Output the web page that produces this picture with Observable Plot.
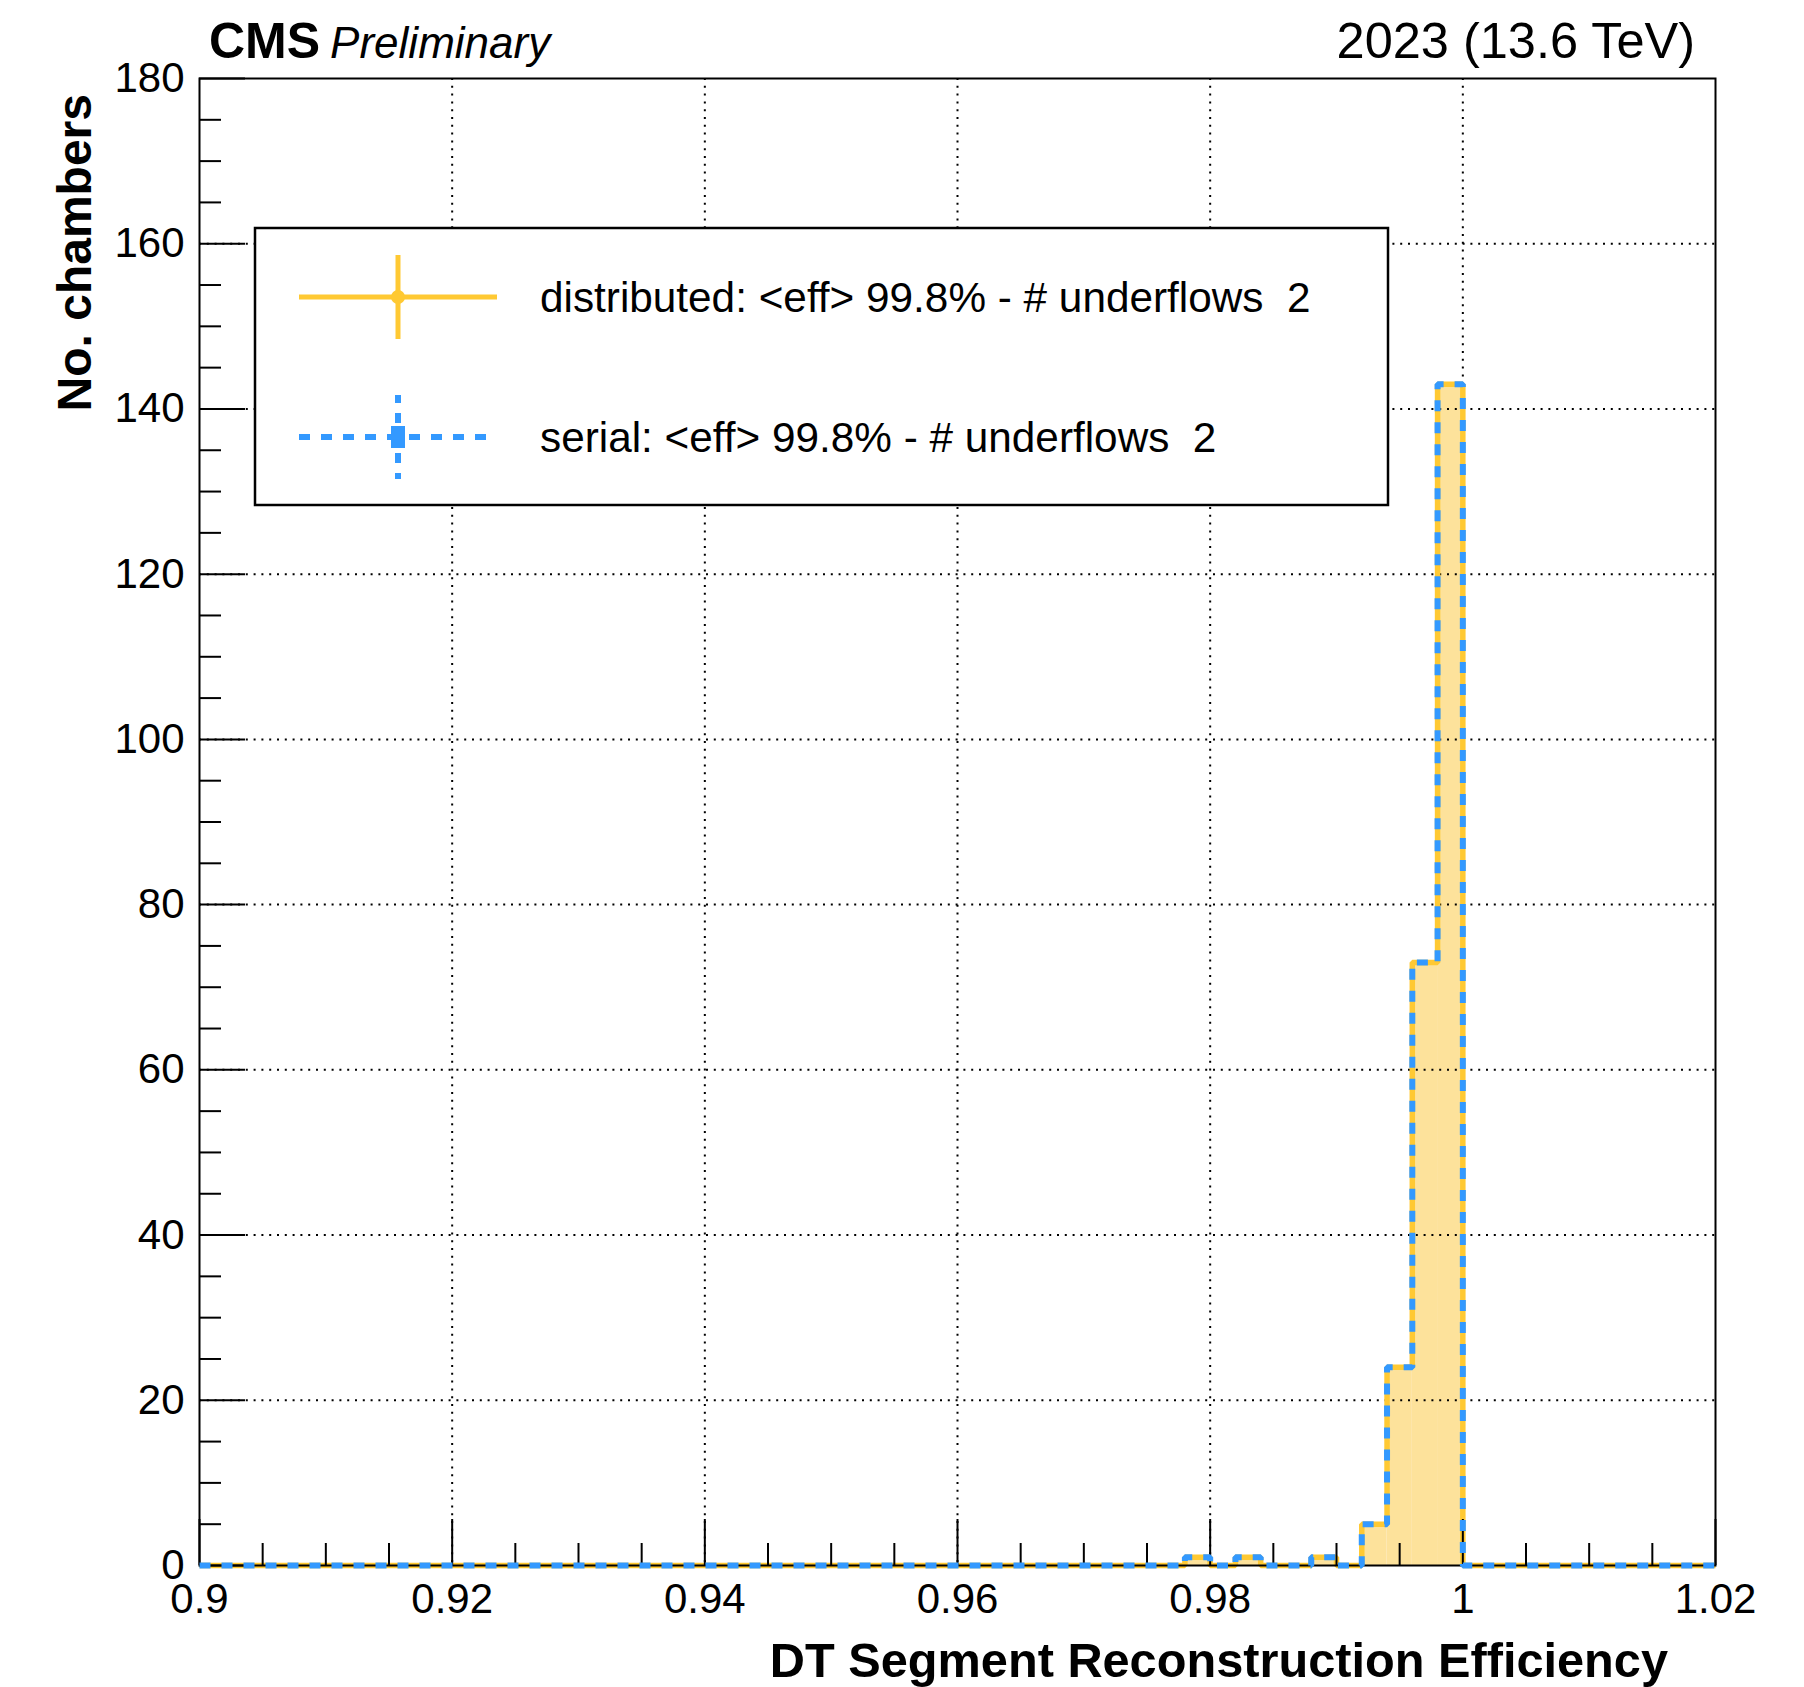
<!DOCTYPE html>
<html><head><meta charset="utf-8">
<script src="https://cdn.jsdelivr.net/npm/d3@7"></script>
<script src="https://cdn.jsdelivr.net/npm/@observablehq/plot@0.6"></script>
<style>
html,body{margin:0;padding:0;background:#fff;}
#chart{position:relative;width:1804px;height:1687px;}
</style></head><body><div id="chart"></div>
<script>
// ---- data ----
const binStart = [0.978, 0.982, 0.988, 0.992, 0.994, 0.996, 0.998];
const distributedCounts = [1, 1, 1, 5, 24, 73, 143];
const serialCounts = [1, 1, 1, 5, 24, 73, 143];
const binWidth = 0.002;
const xDomain = [0.9, 1.02];
const yDomain = [0, 180];
const xTickValues = [0.9, 0.92, 0.94, 0.96, 0.98, 1.0, 1.02];
const xTickLabels = ["0.9", "0.92", "0.94", "0.96", "0.98", "1", "1.02"];
const yTickValues = [0, 20, 40, 60, 80, 100, 120, 140, 160, 180];
const yTickLabels = ["0", "20", "40", "60", "80", "100", "120", "140", "160", "180"];
const xGridValues = [0.92, 0.94, 0.96, 0.98, 1.0];
const yGridValues = [20, 40, 60, 80, 100, 120, 140, 160];
const xMinorStep = 0.005;
const yMinorStep = 5;
const seriesNames = ["distributed", "serial"];
const meanEff = ["99.8%", "99.8%"];
const underflows = [2, 2];

// ---- layout ----
const W = 1804, H = 1687;
const mL = 199, mR = 89, mT = 78, mB = 122;
const fw = W - mL - mR, fh = H - mT - mB;
const FONT = "'Liberation Sans', Arial, Helvetica, sans-serif";
const YEL = "#ffc933", FILL = "#fde29b", BLUE = "#3399ff";

function stepPoints(counts) {
  const pts = [{x: xDomain[0], y: 0}];
  for (let i = 0; i < binStart.length; i++) {
    pts.push({x: binStart[i], y: counts[i]});
    const end = binStart[i] + binWidth;
    const next = i + 1 < binStart.length ? binStart[i + 1] : null;
    if (next === null || Math.abs(next - end) > 1e-9) pts.push({x: end, y: 0});
  }
  pts.push({x: xDomain[1], y: 0});
  return pts;
}
const bins = binStart.map((b, i) => ({x1: b, x2: b + binWidth, y: distributedCounts[i]}));
const distPts = stepPoints(distributedCounts);
const serPts = stepPoints(serialCounts);

const xMinor = d3.range(Math.round(xDomain[0] / xMinorStep), Math.round(xDomain[1] / xMinorStep) + 1)
  .map(k => +(k * xMinorStep).toFixed(4)).filter(v => !xTickValues.some(t => Math.abs(t - v) < 1e-9));
const yMinor = d3.range(yDomain[0], yDomain[1] + 1e-9, yMinorStep).filter(v => v % 20 !== 0);

const labelX = new Map(xTickValues.map((v, i) => [v, xTickLabels[i]]));
const labelY = new Map(yTickValues.map((v, i) => [v, yTickLabels[i]]));

const plot = Plot.plot({
  width: W, height: H,
  marginLeft: mL, marginRight: mR, marginTop: mT, marginBottom: mB,
  style: {fontFamily: FONT, fontSize: "42px", background: "#fff", overflow: "visible"},
  x: {domain: xDomain, label: null},
  y: {domain: yDomain, label: null},
  marks: [
    Plot.rectY(bins, {x1: "x1", x2: "x2", y: "y", fill: FILL}),
    Plot.ruleX(xGridValues, {x: d => d, stroke: "#000", strokeWidth: 2, strokeDasharray: "2,5.8"}),
    Plot.ruleY(yGridValues, {y: d => d, stroke: "#000", strokeWidth: 2, strokeDasharray: "2,5.8"}),
    Plot.lineY(distPts, {x: "x", y: "y", curve: "step-after", stroke: YEL, strokeWidth: 5.5, strokeLinejoin: "miter", strokeLinecap: "butt"}),
    Plot.ruleX(xTickValues, {x: d => d, stroke: "#000", strokeWidth: 2, insetTop: fh - 46}),
    Plot.ruleX(xMinor, {x: d => d, stroke: "#000", strokeWidth: 2, insetTop: fh - 22}),
    Plot.ruleY(yTickValues, {y: d => d, stroke: "#000", strokeWidth: 2, insetRight: fw - 46}),
    Plot.ruleY(yMinor, {y: d => d, stroke: "#000", strokeWidth: 2, insetRight: fw - 22}),
    Plot.frame({stroke: "#000", strokeWidth: 2}),
    Plot.lineY(serPts, {x: "x", y: "y", curve: "step-after", stroke: BLUE, strokeWidth: 6, strokeDasharray: "11,11", strokeLinejoin: "miter", strokeLinecap: "butt"}),
    Plot.axisX({ticks: xTickValues, tickSize: 0, tickPadding: 18, fontSize: 42, tickFormat: d => labelX.get(d)}),
    Plot.axisY({ticks: yTickValues, tickSize: 0, tickPadding: 15, fontSize: 42, tickFormat: d => labelY.get(d)})
  ]
});
document.getElementById("chart").appendChild(plot);

// ---- titles, axis titles and legend ----
const svg = d3.select(plot);
const tg = svg.append("g").attr("font-family", FONT).attr("fill", "#000").attr("text-anchor", "start");
const head = tg.append("text").attr("x", 209).attr("y", 58).attr("text-anchor", "start");
head.append("tspan").attr("font-weight", "bold").attr("font-size", 50).text("CMS");
head.append("tspan").attr("font-style", "italic").attr("font-size", 44).attr("dx", 10).text("Preliminary");
tg.append("text").attr("x", 1695).attr("y", 58).attr("text-anchor", "end").attr("font-size", 50.5).text("2023 (13.6 TeV)");
tg.append("text").attr("x", 1668).attr("y", 1677).attr("text-anchor", "end").attr("font-weight", "bold").attr("font-size", 48.7)
  .text("DT Segment Reconstruction Efficiency");
tg.append("text").attr("transform", "translate(91,94) rotate(-90)").attr("text-anchor", "end").attr("font-weight", "bold").attr("font-size", 48)
  .text("No. chambers");

const lg = svg.append("g");
lg.append("rect").attr("x", 255).attr("y", 228).attr("width", 1133).attr("height", 277)
  .attr("fill", "#fff").attr("stroke", "#000").attr("stroke-width", 2.5);
const rowY = [297, 437];
const colors = [YEL, BLUE];
seriesNames.forEach((name, i) => {
  const g = lg.append("g");
  const dash = i === 1 ? "11,11" : null;
  g.append("line").attr("x1", 299).attr("x2", 497).attr("y1", rowY[i]).attr("y2", rowY[i])
    .attr("stroke", colors[i]).attr("stroke-width", i === 1 ? 6 : 5).attr("stroke-dasharray", dash);
  g.append("line").attr("x1", 398).attr("x2", 398).attr("y1", rowY[i] - 42).attr("y2", rowY[i] + 42)
    .attr("stroke", colors[i]).attr("stroke-width", i === 1 ? 6 : 5).attr("stroke-dasharray", i === 1 ? "10,10" : null)
    .attr("stroke-dashoffset", i === 1 ? 2 : 0);
  if (i === 0) g.append("circle").attr("cx", 398).attr("cy", rowY[i]).attr("r", 7).attr("fill", colors[i]);
  else g.append("rect").attr("x", 391).attr("y", rowY[i] - 11).attr("width", 14).attr("height", 22).attr("fill", colors[i]);
  g.append("text").attr("x", 540).attr("y", rowY[i] + 15).attr("font-family", FONT).attr("font-size", 42.3)
    .attr("text-anchor", "start").attr("xml:space", "preserve").style("white-space", "pre")
    .text(`${name}: <eff> ${meanEff[i]} - # underflows  ${underflows[i]}`);
});
</script></body></html>
